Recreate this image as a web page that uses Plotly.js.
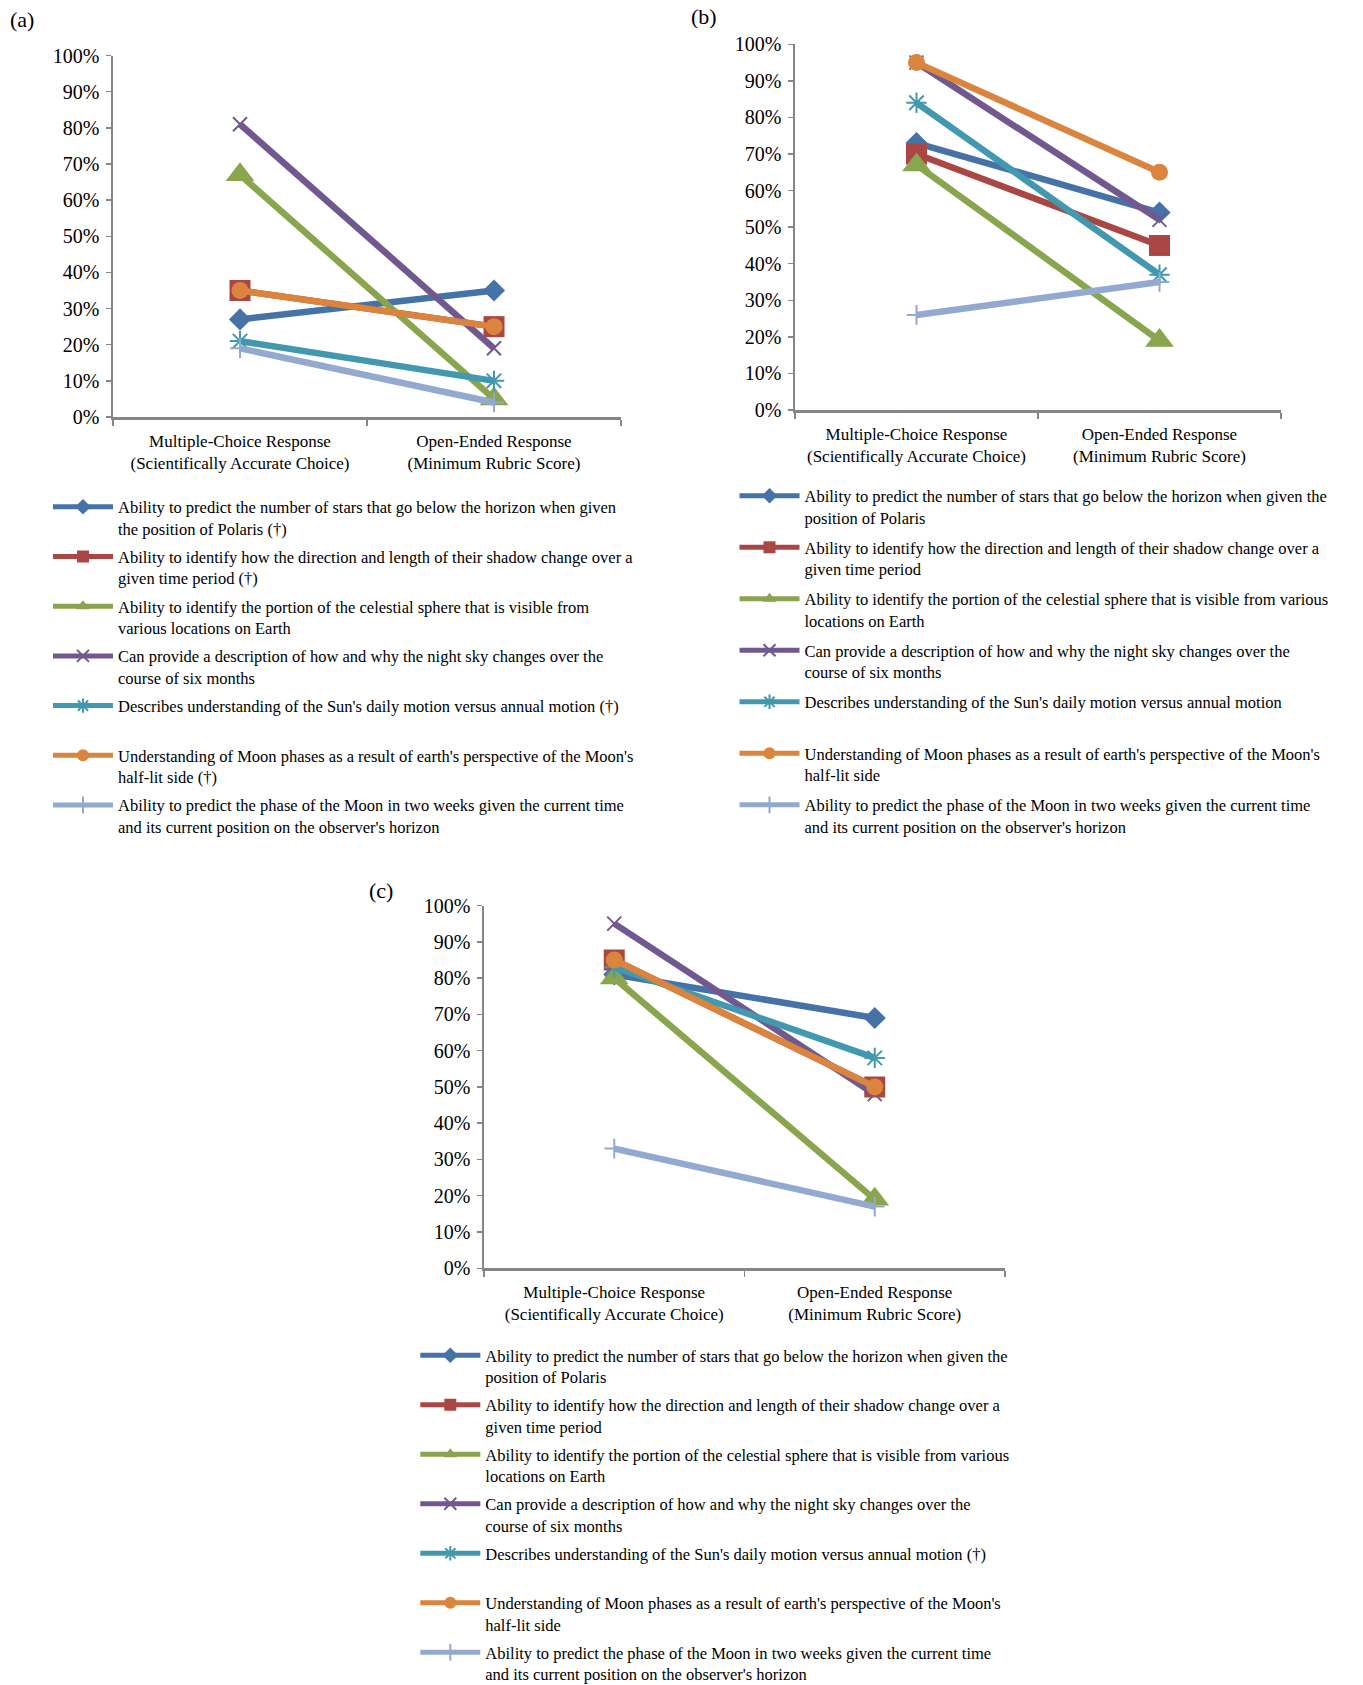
<!DOCTYPE html>
<html>
<head>
<meta charset="utf-8">
<script src="https://cdn.plot.ly/plotly-3.0.1.min.js"></script>
<style>
  html, body { margin: 0; padding: 0; background: #fff; }
  #chart { width: 1363px; height: 1685px; }
</style>
</head>
<body>
<div id="chart"></div>
<script>
// ---------------- DATA ----------------
const categories = [
  "Multiple-Choice Response<br>(Scientifically Accurate Choice)",
  "Open-Ended Response<br>(Minimum Rubric Score)"
];
const yTickValues = [0, 0.1, 0.2, 0.3, 0.4, 0.5, 0.6, 0.7, 0.8, 0.9, 1.0];
const yTickLabels = ["0%", "10%", "20%", "30%", "40%", "50%", "60%", "70%", "80%", "90%", "100%"];
const panelLabels = ["(a)", "(b)", "(c)"];

const namesA = [
  "Ability to predict the number of stars that go below the horizon when given<br>the position of Polaris (†)",
  "Ability to identify how the direction and length of their shadow change over a<br>given time period (†)",
  "Ability to identify the portion of the celestial sphere that is visible from<br>various locations on Earth",
  "Can provide a description of how and why the night sky changes over the<br>course of six months",
  "Describes understanding of the Sun's daily motion versus annual motion (†)<br> ",
  "Understanding of Moon phases as a result of earth's perspective of the Moon's<br>half-lit side (†)",
  "Ability to predict the phase of the Moon in two weeks given the current time<br>and its current position on the observer's horizon"
];
const namesB = [
  "Ability to predict the number of stars that go below the horizon when given the<br>position of Polaris",
  "Ability to identify how the direction and length of their shadow change over a<br>given time period",
  "Ability to identify the portion of the celestial sphere that is visible from various<br>locations on Earth",
  "Can provide a description of how and why the night sky changes over the<br>course of six months",
  "Describes understanding of the Sun's daily motion versus annual motion<br> ",
  "Understanding of Moon phases as a result of earth's perspective of the Moon's<br>half-lit side",
  "Ability to predict the phase of the Moon in two weeks given the current time<br>and its current position on the observer's horizon"
];
const namesC = [
  "Ability to predict the number of stars that go below the horizon when given the<br>position of Polaris",
  "Ability to identify how the direction and length of their shadow change over a<br>given time period",
  "Ability to identify the portion of the celestial sphere that is visible from various<br>locations on Earth",
  "Can provide a description of how and why the night sky changes over the<br>course of six months",
  "Describes understanding of the Sun's daily motion versus annual motion (†)<br> ",
  "Understanding of Moon phases as a result of earth's perspective of the Moon's<br>half-lit side",
  "Ability to predict the phase of the Moon in two weeks given the current time<br>and its current position on the observer's horizon"
];

// values per series: [Multiple-Choice, Open-Ended]
const multipleChoiceA = [0.27, 0.35, 0.67, 0.81, 0.21, 0.35, 0.19];
const openEndedA      = [0.35, 0.25, 0.05, 0.19, 0.10, 0.25, 0.04];
const multipleChoiceB = [0.73, 0.70, 0.67, 0.95, 0.84, 0.95, 0.26];
const openEndedB      = [0.54, 0.45, 0.19, 0.52, 0.37, 0.65, 0.35];
const multipleChoiceC = [0.81, 0.85, 0.80, 0.95, 0.83, 0.85, 0.33];
const openEndedC      = [0.69, 0.50, 0.19, 0.48, 0.58, 0.50, 0.17];

// ---------------- STYLE ----------------
const W = 1363, H = 1685;
const FONT = "Liberation Serif, Times New Roman, serif";
const colors = ["#4572A7", "#AA4643", "#89A54E", "#71588F", "#4198AF", "#DB843D", "#93A9CF"];
const symbols = ["diamond", "square", "triangle-up", "x-thin", "asterisk-open", "circle", "cross-thin"];
const sizes = [17, 21, 25, 14, 17, 17, 14];
const markerLineW = [0, 0, 0, 2, 2, 0, 2];

function px(x) { return x / W; }
function py(y) { return 1 - y / H; }

const panels = [
  { names: namesA, mc: multipleChoiceA, oe: openEndedA, ax: "", box: [113, 621, 55.5, 417],
    legend: { left: 48, line1: 506.8, gap: 3.8 }, label: [22, 19.5] },
  { names: namesB, mc: multipleChoiceB, oe: openEndedB, ax: "2", box: [795, 1281, 44.3, 410],
    legend: { left: 734.5, line1: 495.8, gap: 5.6 }, label: [703.5, 17] },
  { names: namesC, mc: multipleChoiceC, oe: openEndedC, ax: "3", box: [484, 1005, 905.5, 1268.3],
    legend: { left: 415.3, line1: 1355.3, gap: 3.6 }, label: [381, 890] }
];

const traces = [];
const layout = {
  width: W, height: H,
  margin: { l: 0, r: 0, t: 0, b: 0, autoexpand: false },
  paper_bgcolor: "#ffffff",
  plot_bgcolor: "#ffffff",
  showlegend: true,
  font: { family: FONT, color: "#000000" },
  annotations: []
};

const LEG_FONT = 16.5;
const LH = LEG_FONT * 1.3;

panels.forEach(function (p, pi) {
  const legName = pi === 0 ? "legend" : "legend" + (pi + 1);
  for (let i = 0; i < p.names.length; i++) {
    traces.push({
      type: "scatter",
      mode: "lines+markers",
      x: categories,
      y: [p.mc[i], p.oe[i]],
      xaxis: "x" + p.ax,
      yaxis: "y" + p.ax,
      name: p.names[i],
      legend: legName,
      legendgroup: "g" + pi + "_" + i,
      line: { color: colors[i], width: 6.5 },
      marker: {
        symbol: symbols[i],
        size: sizes[i],
        color: colors[i],
        line: { color: colors[i], width: markerLineW[i] }
      },
      hoverinfo: "skip"
    });
  }
  const b = p.box;
  layout["xaxis" + p.ax] = {
    domain: [px(b[0]), px(b[1])],
    anchor: "y" + p.ax,
    type: "category",
    range: [-0.5, 1.5],
    tickson: "boundaries",
    ticks: "outside",
    ticklen: 6,
    tickwidth: 1.5,
    tickcolor: "#868686",
    showline: true,
    linecolor: "#868686",
    linewidth: 2.5,
    showgrid: false,
    zeroline: false,
    automargin: false,
    ticklabelstandoff: 7,
    tickfont: { family: FONT, size: 17, color: "#000" },
    fixedrange: true
  };
  layout["yaxis" + p.ax] = {
    domain: [py(b[3]), py(b[2])],
    anchor: "x" + p.ax,
    range: [0, 1],
    tickvals: yTickValues,
    ticktext: yTickLabels,
    ticks: "outside",
    ticklen: 5,
    tickwidth: 1.5,
    tickcolor: "#868686",
    showline: true,
    linecolor: "#868686",
    linewidth: 2.5,
    showgrid: false,
    zeroline: false,
    automargin: false,
    ticklabelstandoff: 2,
    tickfont: { family: FONT, size: 20, color: "#000" },
    fixedrange: true
  };
  layout[legName] = {
    x: px(p.legend.left),
    y: py(p.legend.line1 - 5 - LH / 2 - 1.5),
    xanchor: "left",
    yanchor: "top",
    orientation: "v",
    bgcolor: "rgba(0,0,0,0)",
    borderwidth: 0,
    itemwidth: 60,
    itemsizing: "constant",
    valign: "top",
    traceorder: "grouped",
    tracegroupgap: p.legend.gap,
    font: { family: FONT, size: LEG_FONT, color: "#000" }
  };
  layout.annotations.push({
    text: panelLabels[pi],
    xref: "paper", yref: "paper",
    x: px(p.label[0]), y: py(p.label[1]),
    xanchor: "center", yanchor: "middle",
    showarrow: false,
    font: { family: FONT, size: 22, color: "#000" }
  });
});

Plotly.newPlot("chart", traces, layout, { displayModeBar: false, staticPlot: true });
</script>
</body>
</html>
